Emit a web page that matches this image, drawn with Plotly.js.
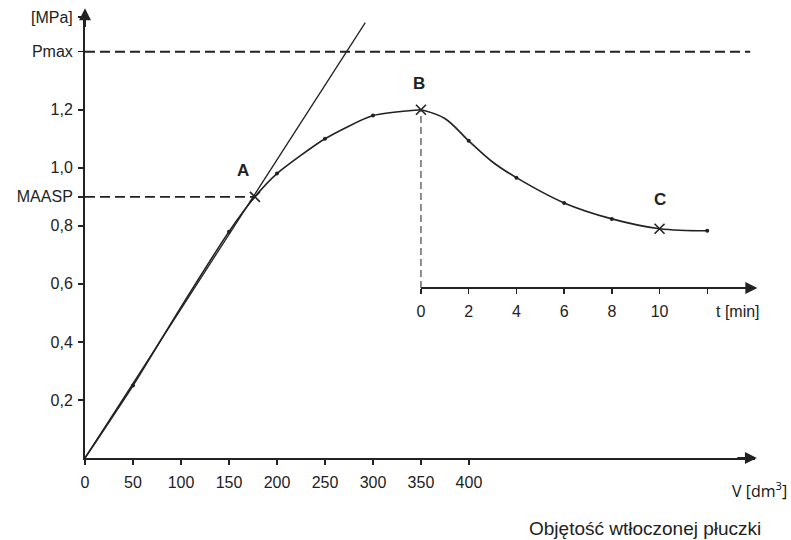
<!DOCTYPE html>
<html>
<head>
<meta charset="utf-8">
<script src="https://cdn.plot.ly/plotly-3.0.1.min.js"></script>
<style>html,body{margin:0;padding:0;background:#fff;}#chart{width:791px;height:540px;}</style>
</head>
<body>
<div id="chart"></div>
<script>
// ---- data ----
const volume = [0, 50, 100, 150, 177, 200, 250, 300, 350];          // V [dm3]
const pressure = [0, 0.25, 0.52, 0.78, 0.90, 0.98, 1.10, 1.18, 1.20]; // MPa
const timeMin = [0, 1, 2, 3, 4, 6, 8, 10, 12];                        // t [min]
const pressureShutIn = [1.20, 1.17, 1.093, 1.02, 0.966, 0.879, 0.824, 0.79, 0.783];
const tangentV = [0, 292];
const tangentP = [0, 1.50];
const pointA = {v: 177, p: 0.90};
const pointB = {v: 350, p: 1.20};
const pointC = {t: 10, p: 0.79};
const pMax = 1.40;
const maasp = 0.90;
const xTickVals = [0, 50, 100, 150, 200, 250, 300, 350, 400];
const xTickText = ['0', '50', '100', '150', '200', '250', '300', '350', '400'];
const yTickVals = [0.2, 0.4, 0.6, 0.8, maasp, 1.0, 1.2, pMax, 1.52];
const yTickText = ['0,2', '0,4', '0,6', '0,8', 'MAASP', '1,0', '1,2', 'Pmax', '[MPa]'];
const tTickVals = [0, 2, 4, 6, 8, 10, 12];
const tTickText = ['0', '2', '4', '6', '8', '10', ''];
const markerV = [50, 150, 200, 250, 300];
const markerP = [0.25, 0.78, 0.98, 1.10, 1.18];
const markerT = [2, 4, 6, 8, 12];
const markerTP = [1.093, 0.966, 0.879, 0.824, 0.783];

// ---- geometry ----
const xMax = 698, yMax = 1.53;
const timeAxisLevel = 0.586;           // MPa level where the time axis is drawn
const tMax = 14;
const x2Start = pointB.v / xMax;       // time axis starts under B

const font = {family: 'Liberation Sans, Arial, sans-serif', size: 16, color: '#222'};
const ink = '#222';

const traces = [
  {x: tangentV, y: tangentP, mode: 'lines', line: {color: ink, width: 1.3}, xaxis: 'x', yaxis: 'y', hoverinfo: 'skip'},
  {x: volume, y: pressure, mode: 'lines', line: {color: ink, width: 1.6, shape: 'spline', smoothing: 0.6}, xaxis: 'x', yaxis: 'y'},
  {x: markerV, y: markerP, mode: 'markers', marker: {size: 4, color: ink}, xaxis: 'x', yaxis: 'y'},
  {x: timeMin, y: pressureShutIn, mode: 'lines', line: {color: ink, width: 1.6, shape: 'spline', smoothing: 1.0}, xaxis: 'x2', yaxis: 'y2'},
  {x: markerT, y: markerTP, mode: 'markers', marker: {size: 4, color: ink}, xaxis: 'x2', yaxis: 'y2'},
  {x: [pointA.v, pointB.v], y: [pointA.p, pointB.p], mode: 'markers',
   marker: {symbol: 'x-thin-open', size: 10, color: ink, line: {width: 1.6, color: ink}}, xaxis: 'x', yaxis: 'y'},
  {x: [pointC.t], y: [pointC.p], mode: 'markers',
   marker: {symbol: 'x-thin-open', size: 10, color: ink, line: {width: 1.6, color: ink}}, xaxis: 'x2', yaxis: 'y2'}
];

const dash = '10px,5px';
const axisCommon = {showgrid: false, zeroline: false, showline: true, linecolor: ink, linewidth: 2,
  ticks: 'outside', ticklen: 5, tickwidth: 1.5, tickcolor: ink, tickfont: font};
const layout = {
  width: 791, height: 540,
  margin: {l: 85, r: 36, t: 14, b: 82},
  paper_bgcolor: '#fff', plot_bgcolor: 'rgba(0,0,0,0)',
  showlegend: false,
  font: font,
  xaxis: Object.assign({range: [0, xMax], domain: [0, 1], tickvals: xTickVals, ticktext: xTickText, anchor: 'y', ticklabelstandoff: 4}, axisCommon),
  yaxis: Object.assign({range: [0, yMax], tickvals: yTickVals, ticktext: yTickText, anchor: 'x', ticklabelstandoff: 2}, axisCommon),
  xaxis2: Object.assign({range: [0, tMax], domain: [x2Start, 1], anchor: 'free', position: timeAxisLevel / yMax,
    tickvals: tTickVals, ticktext: tTickText, ticklabelstandoff: 4}, axisCommon),
  yaxis2: {range: [0, yMax], overlaying: 'y', anchor: 'x2', visible: false},
  shapes: [
    {type: 'line', xref: 'x', yref: 'y', x0: 0, x1: xMax - 5, y0: pMax, y1: pMax, line: {color: ink, width: 1.8, dash: dash}},
    {type: 'line', xref: 'x', yref: 'y', x0: 0, x1: pointA.v, y0: maasp, y1: maasp, line: {color: ink, width: 1.8, dash: dash}},
    {type: 'line', xref: 'x', yref: 'y', x0: pointB.v, x1: pointB.v, y0: timeAxisLevel, y1: pointB.p, line: {color: '#444', width: 1.2, dash: '7px,4px'}}
  ],
  annotations: [
    // axis arrows
    {xref: 'x', yref: 'y', axref: 'x', ayref: 'y', x: xMax + 2, y: 0, ax: xMax - 20, ay: 0, text: '', showarrow: true, arrowhead: 2, arrowsize: 1.2, arrowwidth: 2, arrowcolor: ink},
    {xref: 'x', yref: 'y', axref: 'x', ayref: 'y', x: 0, y: yMax + 0.02, ax: 0, ay: yMax - 0.05, text: '', showarrow: true, arrowhead: 2, arrowsize: 1.2, arrowwidth: 2, arrowcolor: ink},
    {xref: 'x2', yref: 'y2', axref: 'x2', ayref: 'y2', x: tMax + 0.1, y: timeAxisLevel, ax: tMax - 0.8, ay: timeAxisLevel, text: '', showarrow: true, arrowhead: 2, arrowsize: 1.2, arrowwidth: 2, arrowcolor: ink},
    // point labels
    {xref: 'x', yref: 'y', x: pointA.v - 12, y: pointA.p + 0.09, text: '<b>A</b>', showarrow: false, font: {family: 'Liberation Sans, Arial', size: 17, color: ink}},
    {xref: 'x', yref: 'y', x: pointB.v - 2, y: pointB.p + 0.09, text: '<b>B</b>', showarrow: false, font: {family: 'Liberation Sans, Arial', size: 17, color: ink}},
    {xref: 'x2', yref: 'y2', x: pointC.t, y: pointC.p + 0.1, text: '<b>C</b>', showarrow: false, font: {family: 'Liberation Sans, Arial', size: 17, color: ink}},
    // axis titles
    {xref: 'x2', yref: 'y2', x: 13.3, y: timeAxisLevel - 0.08, text: 't [min]', showarrow: false, font: {family: 'Liberation Sans, Arial', size: 16, color: ink}},
    {xref: 'paper', yref: 'paper', x: 1.05, y: -0.072, xanchor: 'right', yanchor: 'middle', text: 'V [dm<sup>3</sup>]', showarrow: false, font: {family: 'Open Sans, Liberation Sans', size: 16, color: '#111'}},
    {xref: 'paper', yref: 'paper', x: 0.836, y: -0.158, xanchor: 'center', yanchor: 'middle', text: 'Objętość wtłoczonej płuczki', showarrow: false, font: {family: 'Liberation Sans, Arial', size: 19, color: ink}}
  ]
};

Plotly.newPlot('chart', traces, layout, {displayModeBar: false, staticPlot: true});
</script>
</body>
</html>
